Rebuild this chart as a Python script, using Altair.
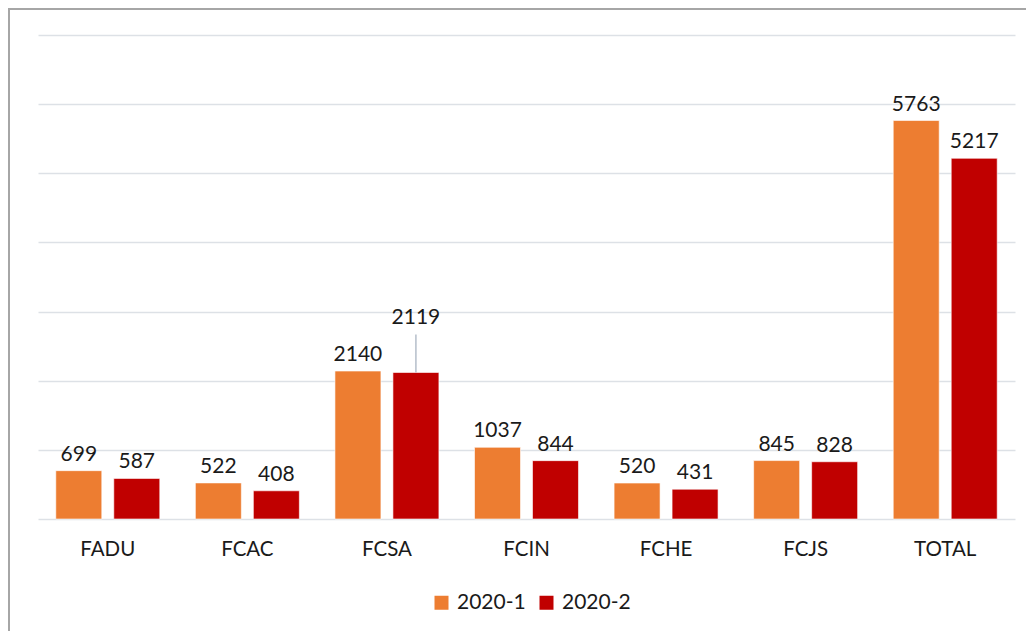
import altair as alt
import pandas as pd

categories = ["FADU", "FCAC", "FCSA", "FCIN", "FCHE", "FCJS", "TOTAL"]
series_names = ["2020-1", "2020-2"]
values_2020_1 = [699, 522, 2140, 1037, 520, 845, 5763]
values_2020_2 = [587, 408, 2119, 844, 431, 828, 5217]
# extra lift (data units) for labels that Excel moved up with a leader line
lift_2020_1 = [0, 0, 0, 0, 0, 0, 0]
lift_2020_2 = [0, 0, 550, 0, 0, 0, 0]
colors = ["#ED7D31", "#C00000"]

rows = []
for i, c in enumerate(categories):
    rows.append({"cat": c, "series": series_names[0], "value": values_2020_1[i], "lift": lift_2020_1[i]})
    rows.append({"cat": c, "series": series_names[1], "value": values_2020_2[i], "lift": lift_2020_2[i]})
df = pd.DataFrame(rows)

FONT = "Lato"
W, H = 977, 484

x_enc = alt.X("cat:N", sort=categories, title=None,
              scale=alt.Scale(paddingInner=0.255, paddingOuter=0.1275),
              axis=alt.Axis(labelFont=FONT, labelFontSize=20.5, labelColor="#1a1a1a",
                            labelAngle=0, labelPadding=20, ticks=False, domain=False,
                            grid=False))
xoff = alt.XOffset("series:N", sort=series_names,
                   scale=alt.Scale(paddingInner=0.2069, paddingOuter=0))
y_scale = alt.Scale(domain=[0, 7000], nice=False)

base = alt.Chart(df)

bars = base.mark_bar(stroke="white", strokeWidth=0.6).encode(
    x=x_enc,
    xOffset=xoff,
    y=alt.Y("value:Q", scale=y_scale, title=None,
            axis=alt.Axis(values=list(range(0, 7001, 1000)), labels=False, ticks=False,
                          domain=False, grid=True, gridColor="#DDE1E6", gridWidth=1.3)),
    color=alt.Color("series:N", sort=series_names,
                    scale=alt.Scale(domain=series_names, range=colors),
                    legend=alt.Legend(title=None, orient="none", legendX=393, legendY=557,
                                      direction="horizontal", symbolType="square",
                                      symbolSize=196, symbolStrokeWidth=0,
                                      labelFont=FONT, labelFontSize=21, labelColor="#1a1a1a",
                                      columnPadding=10, labelOffset=5)),
)

labels = base.transform_calculate(label_y="datum.value + datum.lift").mark_text(
    baseline="bottom", dy=-6, font=FONT, fontSize=21, color="#1a1a1a"
).encode(
    x=alt.X("cat:N", sort=categories),
    xOffset=xoff,
    y=alt.Y("label_y:Q", scale=y_scale),
    text=alt.Text("value:Q", format="d"),
)

leaders = base.transform_filter("datum.lift > 0").transform_calculate(
    top="datum.value + datum.lift"
).mark_rule(color="#A9B4C2", strokeWidth=1.3).encode(
    x=alt.X("cat:N", sort=categories),
    xOffset=xoff,
    y=alt.Y("value:Q", scale=y_scale),
    y2="top:Q",
)

frame = alt.Chart(alt.Data(values=[{"a": 1}])).mark_rect(
    stroke="#A6A6A6", strokeWidth=2, fillOpacity=0
).encode(
    x=alt.value(-29), x2=alt.value(1000),
    y=alt.value(-26), y2=alt.value(620),
)

chart = alt.layer(frame, bars, leaders, labels).properties(
    width=W, height=H,
    padding={"left": 30, "top": 27, "right": 11, "bottom": 112},
    autosize=alt.AutoSizeParams(type="none"),
    background="white",
).configure_view(strokeWidth=0, stroke="transparent")

chart.save("out.html", embed_options={"renderer": "svg", "actions": False})
